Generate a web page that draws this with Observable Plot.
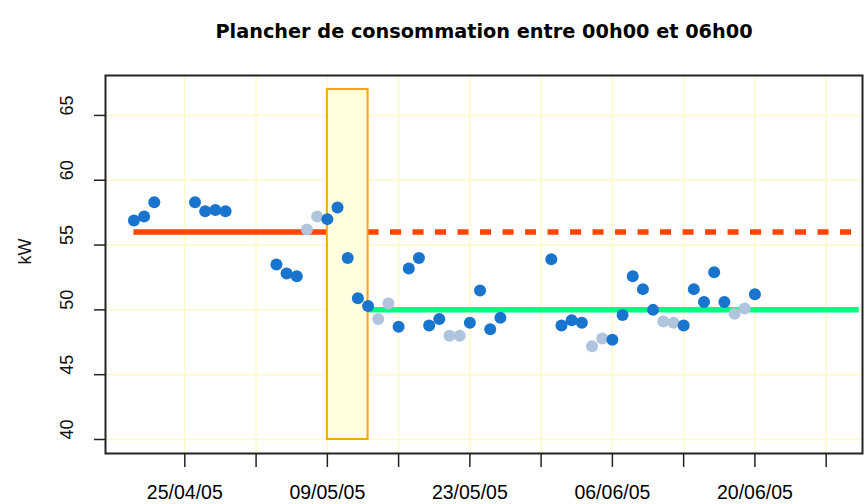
<!DOCTYPE html>
<html>
<head>
<meta charset="utf-8">
<script src="https://cdn.jsdelivr.net/npm/d3@7"></script>
<script src="https://cdn.jsdelivr.net/npm/@observablehq/plot@0.6"></script>
<style>
  html, body { margin: 0; padding: 0; background: #fff; }
  #chart { width: 866px; height: 504px; }
</style>
</head>
<body>
<div id="chart"></div>
<script>
// ---- data ----
const title = "Plancher de consommation entre 00h00 et 06h00";
const yLabel = "kW";

const dates = [
  "2005-04-20","2005-04-21","2005-04-22","2005-04-26","2005-04-27","2005-04-28","2005-04-29",
  "2005-05-04","2005-05-05","2005-05-06","2005-05-07","2005-05-08","2005-05-09","2005-05-10",
  "2005-05-11","2005-05-12","2005-05-13","2005-05-14","2005-05-15","2005-05-16","2005-05-17",
  "2005-05-18","2005-05-19","2005-05-20","2005-05-21","2005-05-22","2005-05-23","2005-05-24",
  "2005-05-25","2005-05-26","2005-05-31","2005-06-01","2005-06-02","2005-06-03","2005-06-04",
  "2005-06-05","2005-06-06","2005-06-07","2005-06-08","2005-06-09","2005-06-10","2005-06-11",
  "2005-06-12","2005-06-13","2005-06-14","2005-06-15","2005-06-16","2005-06-17","2005-06-18",
  "2005-06-19","2005-06-20"
];
const values = [
  56.9, 57.2, 58.3, 58.3, 57.6, 57.7, 57.6,
  53.5, 52.8, 52.6, 56.2, 57.2, 57.0, 57.9,
  54.0, 50.9, 50.3, 49.3, 50.5, 48.7, 53.2,
  54.0, 48.8, 49.3, 48.0, 48.0, 49.0, 51.5,
  48.5, 49.4, 53.9, 48.8, 49.2, 49.0, 47.2,
  47.8, 47.7, 49.6, 52.6, 51.6, 50.0, 49.1,
  49.0, 48.8, 51.6, 50.6, 52.9, 50.6, 49.7,
  50.1, 51.2
];

// reference levels
const beforeLevel = 56;        // plancher avant
const afterLevel = 50;         // plancher après
const lineStart = "2005-04-20";
const changeStart = "2005-05-09";
const changeEnd = "2005-05-13";
const lineEnd = "2005-06-30T06:00Z";
const changeLow = 40;
const changeHigh = 67;

// axes
const xTickDates = ["2005-04-25","2005-05-02","2005-05-09","2005-05-16","2005-05-23",
                    "2005-05-30","2005-06-06","2005-06-13","2005-06-20","2005-06-27"];
const xTickLabels = ["25/04/05","","09/05/05","","23/05/05","","06/06/05","","20/06/05",""];
const yTicks = [40, 45, 50, 55, 60, 65];
const xDomain = ["2005-04-17T05:00Z", "2005-06-30T13:40Z"];
const yDomain = [38.92, 68.08];

// ---- build ----
const D = s => new Date(s);
const points = dates.map((d, i) => ({date: D(d), kW: values[i]}));
const isWeekend = d => d.getUTCDay() === 0 || d.getUTCDay() === 6;
const tickDates = xTickDates.map(D);
const labelOf = new Map(tickDates.map((d, i) => [+d, xTickLabels[i]]));

const dark = "#1874CD", light = "#B0C4DE";
const gridColor = "#FFF9C8";

const chart = Plot.plot({
  width: 866,
  height: 504,
  marginLeft: 105,
  marginRight: 4,
  marginTop: 75,
  marginBottom: 51,
  style: {fontFamily: "'Liberation Sans', Arial, sans-serif", fontSize: "19px", background: "#fff", overflow: "visible"},
  x: {type: "utc", domain: xDomain.map(D)},
  y: {domain: yDomain},
  marks: [
    Plot.gridX(tickDates, {stroke: gridColor, strokeOpacity: 1, strokeWidth: 1.5}),
    Plot.gridY(yTicks, {stroke: gridColor, strokeOpacity: 1, strokeWidth: 1.5}),
    Plot.ruleY([beforeLevel], {x1: D(lineStart), x2: D(changeStart), stroke: "#FF4500", strokeWidth: 5.5}),
    Plot.ruleY([beforeLevel], {x1: D(changeEnd), x2: D(lineEnd), stroke: "#FF4500", strokeWidth: 5.5, strokeDasharray: "11,11.5"}),
    Plot.ruleY([afterLevel], {x1: D(changeEnd), x2: D(lineEnd), stroke: "#00FF7F", strokeWidth: 5.5}),
    Plot.rect([{x1: D(changeStart), x2: D(changeEnd), y1: changeLow, y2: changeHigh}],
      {x1: "x1", x2: "x2", y1: "y1", y2: "y2", fill: "#FFFFE0", stroke: "#FFA500", strokeWidth: 2}),
    Plot.dot(points, {x: "date", y: "kW", r: 6, fill: d => isWeekend(d.date) ? light : dark, stroke: null}),
    Plot.frame({stroke: "#222", strokeWidth: 2}),
    Plot.axisX(tickDates, {anchor: "bottom", tickSize: 14, tickPadding: 18, strokeWidth: 1.5, stroke: "#222",
      fontSize: 19.5, tickFormat: d => labelOf.get(+d), label: null}),
    Plot.axisY(yTicks, {anchor: "left", tickSize: 11, strokeWidth: 1.5, stroke: "#222", tickFormat: () => "", label: null}),
    Plot.text(yTicks, {y: d => d, frameAnchor: "left", dx: -38, rotate: -90, text: d => String(d), fontSize: 18, fill: "#111"}),
    Plot.text([yLabel], {frameAnchor: "left", dx: -80, rotate: -90, text: d => d, fontSize: 18, fill: "#111"}),
    Plot.text([title], {frameAnchor: "top", dy: -51, text: d => d, fontFamily: "'DejaVu Sans', sans-serif",
      fontWeight: "bold", fontSize: 19.3, fill: "#000"})
  ]
});
document.getElementById("chart").appendChild(chart);
</script>
</body>
</html>
